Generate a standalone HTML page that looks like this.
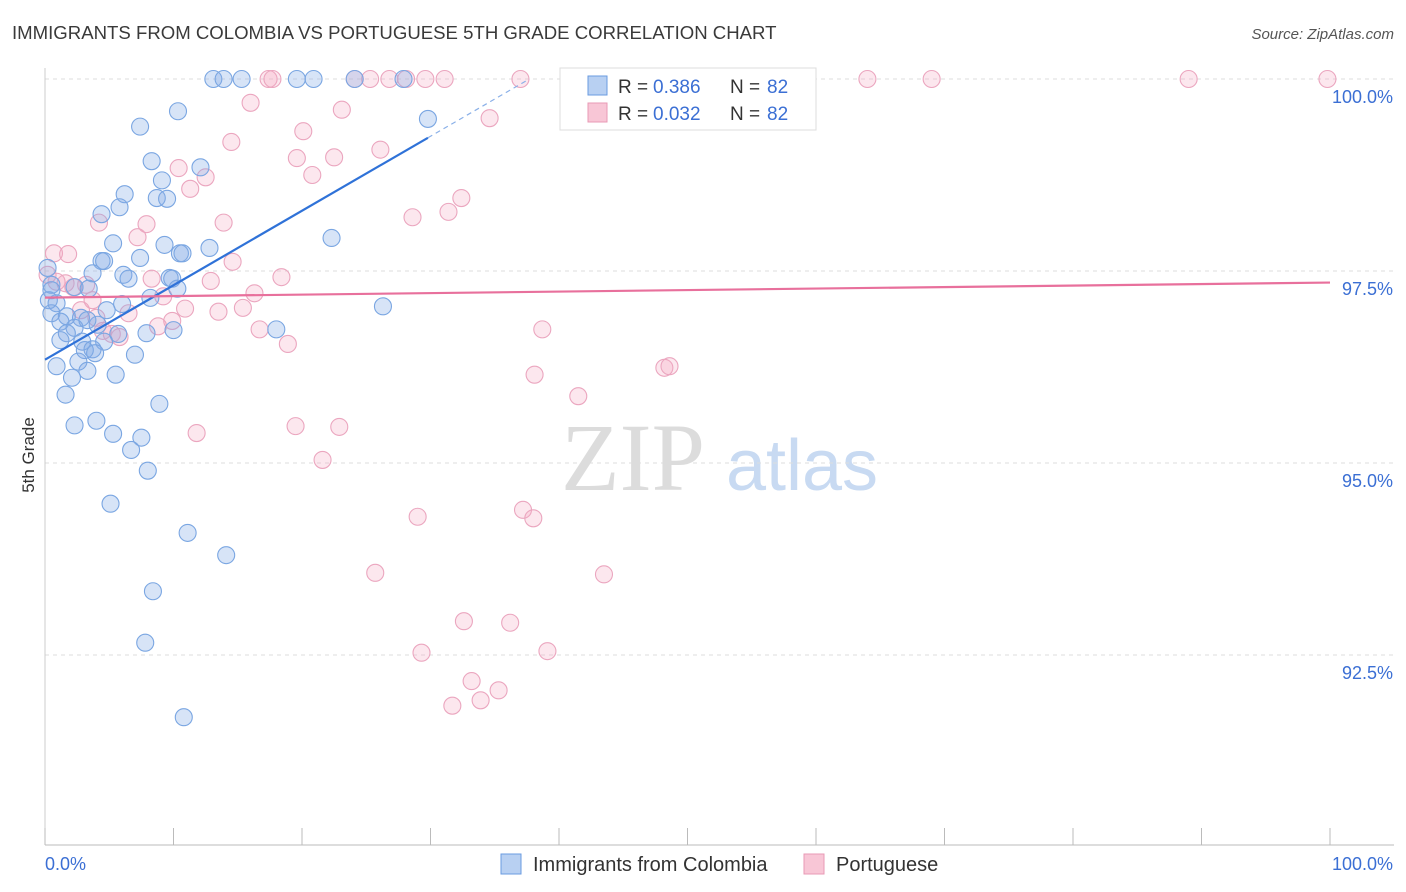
<!DOCTYPE html>
<html><head><meta charset="utf-8"><style>
body{margin:0;background:#fff;font-family:"Liberation Sans",sans-serif;}
svg{display:block}
</style></head><body>
<svg id="chart" width="1406" height="892">
<text x="12" y="39" font-size="18.6" fill="#3a3a3a">IMMIGRANTS FROM COLOMBIA VS PORTUGUESE 5TH GRADE CORRELATION CHART</text>
<text x="1394" y="39" font-size="15" fill="#555" font-style="italic" text-anchor="end">Source: ZipAtlas.com</text>
<text x="0" y="0" transform="translate(34,455) rotate(-90)" font-size="17" fill="#333" text-anchor="middle">5th Grade</text>
<g>
<text x="633" y="490" font-family="Liberation Serif,serif" font-size="96" fill="#dcdcdc" text-anchor="middle">ZIP</text>
<text x="802" y="490" font-size="72" fill="#c8daf2" text-anchor="middle">atlas</text>
</g>
<g id="grid"></g><g id="axes"></g><g id="pts"></g><g id="trend"></g>
<g>
<rect x="560" y="68" width="256" height="62" fill="#fff" stroke="#ddd"/>
<rect x="588" y="76" width="19" height="19" fill="#b8d0f2" stroke="#6a9be0"/>
<text x="618" y="93" font-size="19" fill="#333">R =</text>
<text x="653" y="93" font-size="19" fill="#3b6fd4">0.386</text>
<text x="730" y="93" font-size="19" fill="#333">N =</text>
<text x="767" y="93" font-size="19" fill="#3b6fd4">82</text>
<rect x="588" y="103" width="19" height="19" fill="#f8c6d6" stroke="#e89ab5"/>
<text x="618" y="120" font-size="19" fill="#333">R =</text>
<text x="653" y="120" font-size="19" fill="#3b6fd4">0.032</text>
<text x="730" y="120" font-size="19" fill="#333">N =</text>
<text x="767" y="120" font-size="19" fill="#3b6fd4">82</text>
</g>
<g>
<rect x="501" y="854" width="20" height="20" fill="#b8d0f2" stroke="#6a9be0"/>
<text x="533" y="871" font-size="20" fill="#333">Immigrants from Colombia</text>
<rect x="804" y="854" width="20" height="20" fill="#f8c6d6" stroke="#e89ab5"/>
<text x="836" y="871" font-size="20" fill="#333">Portuguese</text>
</g>
</svg>
<script>
const blueX=[13.1,13.9,15.3,19.6,20.9,24.1,27.9,10.35,29.8,7.4,8.3,12.1,9.1,6.2,8.7,9.5,5.8,4.4,22.3,5.3,9.3,12.8,10.5,10.7,7.4,4.4,4.6,3.7,6.1,6.5,9.7,9.9,0.5,2.3,3.4,10.3,8.2,0.3,0.9,6.0,26.3,4.8,0.5,1.7,2.8,1.2,4.1,2.3,18.0,10.0,7.9,1.7,5.7,4.6,2.9,3.7,3.1,3.9,7.0,2.6,0.9,3.3,5.5,2.1,1.6,8.9,4.0,2.3,5.3,7.5,6.7,8.0,5.1,11.1,14.1,8.4,7.8,10.8,0.2,0.5,1.2,3.3];
const blueY=[100,100,100,100,100,100,100,99.58,99.48,99.38,98.93,98.85,98.68,98.50,98.45,98.44,98.33,98.24,97.93,97.86,97.84,97.80,97.73,97.73,97.67,97.63,97.63,97.47,97.45,97.40,97.41,97.40,97.32,97.29,97.27,97.27,97.15,97.12,97.08,97.07,97.04,96.99,96.95,96.91,96.89,96.84,96.80,96.76,96.74,96.73,96.69,96.69,96.68,96.58,96.58,96.48,96.47,96.43,96.41,96.32,96.26,96.20,96.15,96.11,95.89,95.77,95.55,95.49,95.38,95.33,95.17,94.90,94.47,94.09,93.80,93.33,92.66,91.69,97.54,97.25,96.60,96.86];
const pinkX=[17.4,17.7,24.1,25.3,26.8,28.1,29.6,31.1,37.0,51.2,64.0,69.0,89.0,99.8,16.0,23.1,34.6,20.1,14.5,26.1,19.6,22.5,10.4,12.5,20.8,11.3,32.4,31.4,28.6,13.9,4.2,7.9,0.7,1.8,7.2,14.6,18.4,8.3,12.9,0.9,3.2,2.2,1.6,16.3,9.2,3.7,10.9,13.5,15.4,2.8,6.5,4.0,9.9,8.8,16.7,38.7,4.5,5.2,5.8,18.9,48.2,48.6,38.1,41.5,11.8,19.5,22.9,21.6,29.0,37.2,38.0,25.7,43.5,32.6,36.2,29.3,39.1,33.2,35.3,33.9,31.7,0.2];
const pinkY=[100,100,100,100,100,100,100,100,100,100,100,100,100,100,99.69,99.60,99.49,99.32,99.18,99.08,98.97,98.98,98.84,98.72,98.75,98.57,98.45,98.27,98.20,98.13,98.13,98.11,97.73,97.72,97.94,97.62,97.42,97.40,97.37,97.36,97.32,97.29,97.34,97.21,97.17,97.12,97.01,96.97,97.02,96.99,96.95,96.89,96.85,96.78,96.74,96.74,96.72,96.68,96.64,96.55,96.24,96.26,96.15,95.87,95.39,95.48,95.47,95.04,94.30,94.39,94.28,93.57,93.55,92.94,92.92,92.53,92.55,92.16,92.04,91.91,91.84,97.45];
const yTicks=[100,97.5,95,92.5];
const yTickLabels=["100.0%","97.5%","95.0%","92.5%"];
const xTickVals=[0,10,20,30,40,50,60,70,80,90,100];
const NS="http://www.w3.org/2000/svg";
const X0=45,X1=1330,Y0=79,YB=845;
function xs(v){return X0+(v/100)*(X1-X0);}
function ys(v){return Y0+(100-v)*76.8;}
function mk(tag,attrs,parent){const e=document.createElementNS(NS,tag);for(const k in attrs)e.setAttribute(k,attrs[k]);parent.appendChild(e);return e;}
const grid=document.getElementById('grid'),axes=document.getElementById('axes'),pts=document.getElementById('pts'),trend=document.getElementById('trend');
yTicks.forEach((t,i)=>{
 const l=mk('line',{x1:X0,x2:1394,y1:ys(t),y2:ys(t),stroke:'#ddd','stroke-dasharray':'4,4'},grid);
 
 
 const tx=mk('text',{x:1393,y:ys(t)+24,'font-size':18,fill:'#3b6fd4','text-anchor':'end'},axes);
 tx.textContent=yTickLabels[i];
 
 
});
const ax=mk('line',{x1:X0,x2:1394,y1:YB,y2:YB,stroke:'#bbb'},axes);


const ay=mk('line',{x1:X0,x2:X0,y1:68,y2:YB,stroke:'#ccc'},axes);


xTickVals.forEach(t=>{
 const l=mk('line',{x1:xs(t),x2:xs(t),y1:828,y2:YB,stroke:'#bbb'},axes);
 
 
});
let a=mk('text',{x:45,y:870,'font-size':18,fill:'#3b6fd4'},axes);a.textContent='0.0%';


a=mk('text',{x:1393,y:870,'font-size':18,fill:'#3b6fd4','text-anchor':'end'},axes);a.textContent='100.0%';


function draw(X,Y,fill,stroke,name){
 X.forEach((x,i)=>{const c=mk('circle',{cx:xs(x),cy:ys(Y[i]),r:8.5,fill:fill,stroke:stroke,'stroke-width':1.1},pts);
 
 });
}
draw(pinkX,pinkY,'rgba(245,170,195,0.28)','#eba6bf','portuguese-point');
draw(blueX,blueY,'rgba(130,170,230,0.32)','#7aa6e2','colombia-point');
function fit(X,Y){const n=X.length;let mx=0,my=0;X.forEach((x,i)=>{mx+=x;my+=Y[i];});mx/=n;my/=n;let sxy=0,sxx=0;X.forEach((x,i)=>{sxy+=(x-mx)*(Y[i]-my);sxx+=(x-mx)**2;});const b=sxy/sxx;return [my-b*mx,b];}
const [ba,bb]=fit(blueX,blueY);
const bmax=Math.max(...blueX);
let l=mk('line',{x1:xs(0),y1:ys(ba),x2:xs(bmax),y2:ys(ba+bb*bmax),stroke:'#2f72d8','stroke-width':2.2},trend);


const bend=Math.min(100,(100-ba)/bb);
l=mk('line',{x1:xs(bmax),y1:ys(ba+bb*bmax),x2:xs(bend),y2:ys(ba+bb*bend),stroke:'#8ab0e8','stroke-width':1.2,'stroke-dasharray':'5,4'},trend);


const [pa,pb]=fit(pinkX,pinkY);
l=mk('line',{x1:xs(0),y1:ys(pa),x2:xs(100),y2:ys(pa+pb*100),stroke:'#e8709c','stroke-width':2.2},trend);


</script>
</body></html>
